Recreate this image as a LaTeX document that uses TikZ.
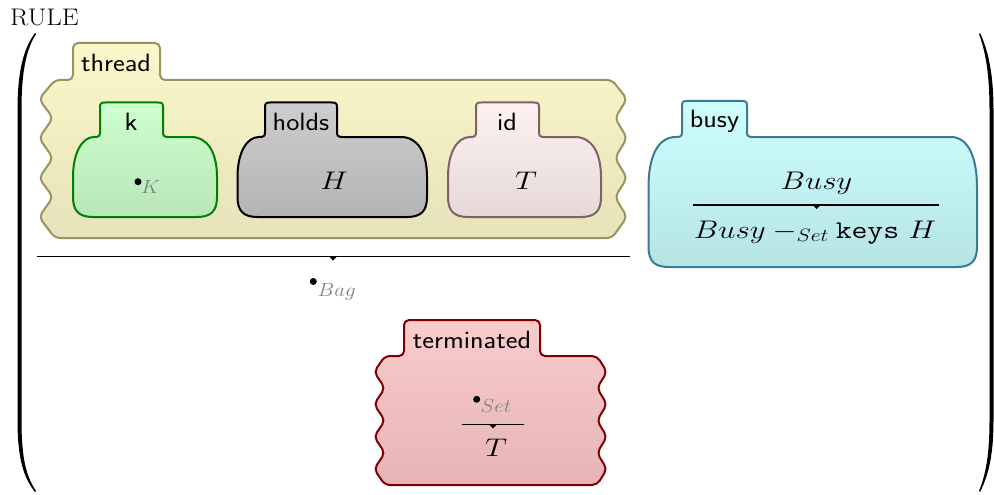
\RequirePackage{fix-cm}
\documentclass[tikz,border=0pt]{standalone}
\definecolor{thrB}{RGB}{152,147,95}
\definecolor{thrT}{RGB}{250,248,202}
\definecolor{thrBot}{RGB}{230,226,186}
\definecolor{kB}{RGB}{0,128,0}
\definecolor{kT}{RGB}{206,255,206}
\definecolor{kBot}{RGB}{184,230,184}
\definecolor{hB}{RGB}{0,0,0}
\definecolor{hT}{RGB}{205,205,205}
\definecolor{hBot}{RGB}{180,180,180}
\definecolor{idB}{RGB}{128,98,98}
\definecolor{idT}{RGB}{252,242,242}
\definecolor{idBot}{RGB}{230,216,216}
\definecolor{bB}{RGB}{60,122,147}
\definecolor{bT}{RGB}{206,255,255}
\definecolor{bBot}{RGB}{182,228,228}
\definecolor{tB}{RGB}{128,0,0}
\definecolor{tT}{RGB}{250,204,204}
\definecolor{tBot}{RGB}{230,180,180}
\definecolor{subgray}{RGB}{128,128,128}
\newcommand\blobbox[9]{%
\path[#1] ({#6+5},#8) -- ({#7-5},#8) .. controls ({#7-1},#8) and (#7,{#8+1}) .. (#7,{#8+5})
 -- (#7,{#4-5}) .. controls (#7,{#4-1}) and ({#7+1},#4) .. ({#7+6},#4)
 -- ({#3-26},#4) .. controls ({#3-9},#4) and (#3,{#4+#9*0.4}) .. (#3,{#4+#9})
 -- (#3,{#5-20}) .. controls (#3,{#5-6}) and ({#3-6},#5) .. ({#3-20},#5)
 -- ({#2+20},#5) .. controls ({#2+6},#5) and (#2,{#5-6}) .. (#2,{#5-20})
 -- (#2,{#4+#9}) .. controls (#2,{#4+#9*0.4}) and ({#2+9},#4) .. ({#6-6},#4)
 .. controls ({#6-1},#4) and (#6,{#4-1}) .. (#6,{#4-5})
 -- (#6,{#8+5}) .. controls (#6,{#8+1}) and ({#6+1},#8) .. ({#6+5},#8) -- cycle;}
\newcommand\mx[1]{\scalebox{1.21}[1]{#1}}
\newcommand\lx[1]{\scalebox{1.12}[1]{#1}}
\newcommand\sbx[1]{\scalebox{1.1}[1]{#1}}
\tikzset{
  boxline/.style={line width=2pt, line join=round},
  wavy/.style={boxline, rounded corners=5pt},
  lbl/.style={anchor=base, inner sep=0pt, font=\fontsize{25}{30}\selectfont\sffamily},
  mth/.style={anchor=base, inner sep=0pt, font=\fontsize{25.5}{30}\selectfont},
  subtxt/.style={anchor=base west, inner sep=0pt, text=subgray, font=\fontsize{19}{23}\selectfont},
  dot/.style={circle, fill=black, inner sep=0pt, minimum size=7pt},
  fracline/.style={line width=1.2pt},
  tip/.style={fill=black},
  paren/.style={fill=black}
}
\begin{document}
\begin{tikzpicture}[x=1pt,y=-1pt]
\useasboundingbox (0,0) rectangle (994,495);
% parentheses
\path[paren] (35,33) .. controls (24,48) and (17.5,70) .. (17.5,110) -- (17.5,420)
  .. controls (17.5,460) and (24,478) .. (35,492) -- (36,491)
  .. controls (26,476) and (21.5,458) .. (21.5,420) -- (21.5,110)
  .. controls (21.5,72) and (26,50) .. (36,34) -- cycle;
\path[paren] (980,33) .. controls (987,48) and (993.5,70) .. (993.5,110) -- (993.5,420)
  .. controls (993.5,460) and (987,478) .. (980,492) -- (979,491)
  .. controls (985,476) and (989.5,458) .. (989.5,420) -- (989.5,110)
  .. controls (989.5,72) and (985,50) .. (979,34) -- cycle;
\node[anchor=base, inner sep=0pt, font=\fontsize{24}{28}\selectfont] (rule) at (44.5,26) {\scalebox{1.12}[1]{$\mathrm{RULE}$}};
% thread
\path[wavy, draw=thrB, top color=thrT, bottom color=thrBot]
  (73,43) -- (160,43) -- (160,80) -- (612,80) -- (627,99) -- (615,118) -- (627,138)
  -- (615,158) -- (627,178) -- (615,197) -- (627,217) -- (612,238) -- (55,238)
  -- (39,217) -- (53,197) -- (39,178) -- (53,158) -- (39,138) -- (53,118) -- (39,99)
  -- (55,80) -- (73,80) -- cycle;
\node[lbl] (threadlbl) at (116,72) {\lx{thread}};
% k
\blobbox{boxline, draw=kB, top color=kT, bottom color=kBot}{73}{217}{137}{217}{100}{163}{102.5}{40}
\node[lbl] (klbl) at (131,130) {\lx{k}};
\node[dot] (kdot) at (138,181.7) {};
\node[subtxt] (ksub) at (141,193) {\sbx{$K$}};
% holds
\blobbox{boxline, draw=hB, top color=hT, bottom color=hBot}{237.5}{427}{137}{217}{265}{337}{102.5}{40}
\node[lbl] (holdslbl) at (301,130) {\lx{holds}};
\node[mth] (holdsval) at (334,189) {\mx{$H$}};
% id
\blobbox{boxline, draw=idB, top color=idT, bottom color=idBot}{448}{601}{137}{217}{476}{539}{102.5}{40}
\node[lbl] (idlbl) at (507,130) {\lx{id}};
\node[mth] (idval) at (526,189) {\mx{$T$}};
% thread fraction
\coordinate (tl) at (37,256.5);
\coordinate (tr) at (630,256.5);
\draw[fracline] (tl) -- (tr);
\path[tip] (329,256.5) -- (337,256.5) -- (333,260.5) -- cycle;
\node[dot] (bagdot) at (313.3,281.5) {};
\node[subtxt] (bagsub) at (317.5,296.5) {\sbx{$Bag$}};
% busy
\blobbox{boxline, draw=bB, top color=bT, bottom color=bBot}{648.5}{977}{137}{267}{682}{747}{101}{50}
\node[lbl] (busylbl) at (714.5,127.7) {\lx{busy}};
\node[mth] (busynum) at (816.5,189.7) {\mx{$Busy$}};
\coordinate (bl) at (693,205);
\coordinate (br) at (938.5,205);
\draw[fracline] (bl) -- (br);
\path[tip] (812.5,205) -- (820.5,205) -- (816.5,209) -- cycle;
\node[mth] (busyden) at (815,238) {\mx{$Busy -_{Set} \mathtt{keys}\ H$}};
% terminated
\path[wavy, draw=tB, top color=tT, bottom color=tBot]
  (404,320) -- (540,320) -- (540,356) -- (597,356) -- (607,372) -- (597,388) -- (607,404.3)
  -- (597,420.5) -- (607,436.7) -- (597,453) -- (607,469) -- (597,485) -- (385,485)
  -- (374,469) -- (385,453) -- (374,436.7) -- (385,420.5) -- (374,404.3) -- (385,388)
  -- (374,372) -- (385,356) -- (404,356) -- cycle;
\node[lbl] (termlbl) at (472,348) {\lx{terminated}};
\node[dot] (setdot) at (476.7,399.3) {};
\node[subtxt] (setsub) at (480.5,412.8) {\sbx{$Set$}};
\coordinate (ml) at (461.7,424.3);
\coordinate (mr) at (524.3,424.3);
\draw[fracline] (ml) -- (mr);
\path[tip] (489,424.3) -- (497,424.3) -- (493,428.3) -- cycle;
\node[mth] (termden) at (496,456.7) {\mx{$T$}};
\end{tikzpicture}
\end{document}
